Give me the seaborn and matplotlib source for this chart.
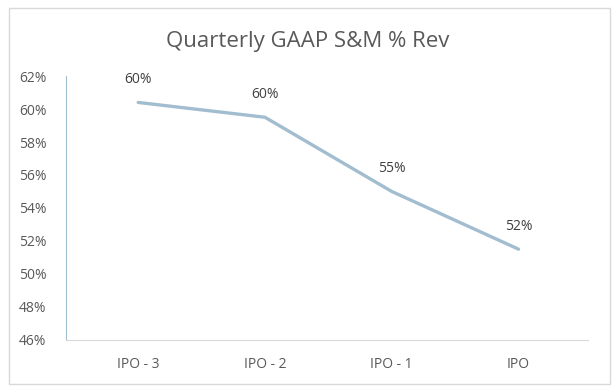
import numpy as np
import pandas as pd
import matplotlib
matplotlib.use("Agg")
import matplotlib.pyplot as plt
import seaborn as sns
from matplotlib.patches import Rectangle

# Data
quarters = ['IPO - 3', 'IPO - 2', 'IPO - 1', 'IPO']
sm_pct = [60.4, 59.5, 55.0, 51.5]
point_labels = ['60%', '60%', '55%', '52%']
y_ticks = [46, 48, 50, 52, 54, 56, 58, 60, 62]

df = pd.DataFrame({'quarter': quarters, 'pct': sm_pct})
df['x'] = np.arange(len(quarters))

sns.set_style("white")
plt.rcParams['font.family'] = ['Open Sans', 'DejaVu Sans']
text_col = '#595959'

fig = plt.figure(figsize=(6.16, 3.92), dpi=100)
ax = fig.add_axes([0.107, 0.133, 0.848, 0.673])

sns.lineplot(data=df, x='x', y='pct', ax=ax, color='#A2BDD0', linewidth=2.4)

for xi, yi, lab in zip(df['x'], df['pct'], point_labels):
    ax.annotate(lab, (xi, yi), xytext=(0, 11), textcoords='offset points',
                ha='center', va='bottom', fontsize=10, color='#404040')

ax.set_xlim(-0.57, len(quarters) - 0.45)
ax.set_ylim(46, 62)
ax.set_xticks(df['x'])
ax.set_xticklabels(quarters)
ax.set_yticks(y_ticks)
ax.set_yticklabels([f'{t}%' for t in y_ticks])
ax.tick_params(axis='both', length=0, labelsize=10, labelcolor=text_col)
ax.tick_params(axis='x', pad=12)
ax.tick_params(axis='y', pad=14)
ax.set_xlabel('')
ax.set_ylabel('')

for s in ['top', 'right']:
    ax.spines[s].set_visible(False)
ax.spines['left'].set_color('#A2BDD0')
ax.spines['left'].set_linewidth(0.8)
ax.spines['bottom'].set_color('#D9D9D9')
ax.spines['bottom'].set_linewidth(0.8)

fig.text(0.5, 0.893, 'Quarterly GAAP S&M % Rev', ha='center', va='center',
         fontsize=16, color=text_col)

fig.patches.append(Rectangle((0.015, 0.02), 0.975, 0.96, transform=fig.transFigure,
                             fill=False, edgecolor='#D9D9D9', linewidth=1))

fig.savefig('out.png', dpi=100)
